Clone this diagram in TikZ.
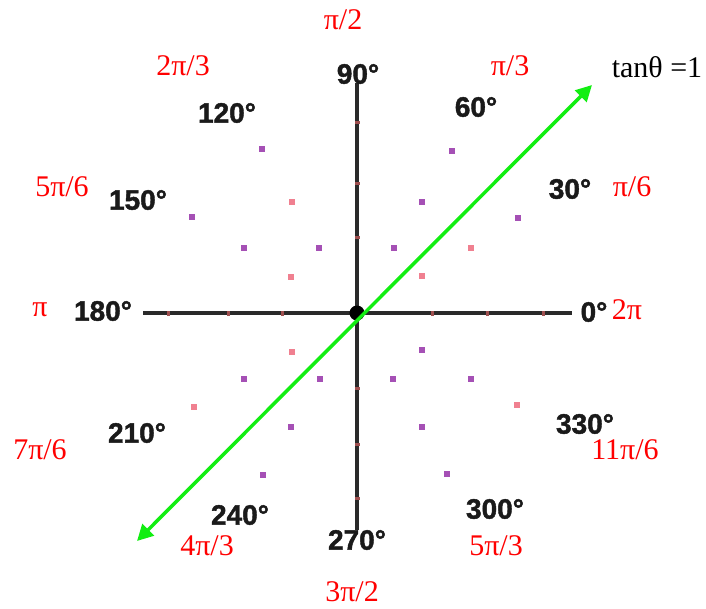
\documentclass[tikz,border=0pt]{standalone}
\usepackage{fontspec}
\setmainfont{Liberation Serif}
\newfontfamily\degfont[BoldFeatures={FakeBold=1.5}]{Liberation Sans}
\usetikzlibrary{arrows.meta}
\definecolor{axisgray}{HTML}{2A2A2A}
\definecolor{dotpurple}{HTML}{A550B5}
\definecolor{dotpink}{HTML}{F08090}
\definecolor{tickred}{HTML}{A05050}
\definecolor{arrowgreen}{HTML}{12EE12}
\definecolor{degblack}{HTML}{1A1A1A}
\tikzset{
  deg/.style={font=\degfont\bfseries\fontsize{28}{28}\selectfont, text=degblack, inner sep=0pt},
  rad/.style={font=\fontsize{30}{30}\selectfont, text=red, inner sep=0pt},
  axisline/.style={line width=4pt, draw=axisgray},
  pdot/.style={fill=dotpurple, minimum size=6pt, inner sep=0pt},
  kdot/.style={fill=dotpink, minimum size=6pt, inner sep=0pt},
  tickmark/.style={fill=tickred, minimum width=3pt, minimum height=5pt, inner sep=0pt},
  htick/.style={fill=tickred, minimum width=5pt, minimum height=3pt, inner sep=0pt},
  greenarrow/.style={line width=3.5pt, draw=arrowgreen, {Triangle[length=16pt,width=16pt]}-{Triangle[length=16pt,width=16pt]}}
}
\begin{document}
\begin{tikzpicture}[x=1pt,y=-1pt]
\useasboundingbox (0,0) rectangle (706,608);
% axes
\coordinate (L) at (143,313);
\coordinate (R) at (572,313);
\coordinate (T) at (357,83);
\coordinate (B) at (357,530);
\draw[axisline] (L) -- (R);
\draw[axisline] (T) -- (B);
% ticks on axes
\foreach \x [count=\i] in {168,228,282,432,487,543} \node[tickmark] (th\i) at (\x,313) {};
\foreach \y [count=\i] in {122,183,237,388,444,498} \node[htick] (tv\i) at (357,\y) {};
% dots
\foreach \p [count=\i] in {(262,149),(192,217),(244,248),(319,248),(452,151),(422,202),(518,218),(394,248),(244,379),(320,379),(263,475),(422,350),(393,379),(471,379),(422,427),(447,474),(291,427)}
  \node[pdot] (pd\i) at \p {};
\foreach \p [count=\i] in {(292,202),(291,277),(471,248),(422,276),(292,352),(194,407),(517,405)}
  \node[kdot] (kd\i) at \p {};
% center dot
\node[circle, fill=black, minimum size=15pt, inner sep=0pt] (O) at (357,313) {};
% green arrow
\coordinate (SW) at (137,541);
\coordinate (NE) at (592,85);
\draw[greenarrow] (SW) -- (NE);
% degree labels
\node[deg] (d90) at (358,74) {90°};
\node[deg] (d60) at (476,107) {60°};
\node[deg] (d30) at (570,189) {30°};
\node[deg] (d0) at (594,312) {0°};
\node[deg] (d120) at (227,113) {120°};
\node[deg] (d150) at (138,200) {150°};
\node[deg] (d180) at (103,311) {180°};
\node[deg] (d210) at (137,433) {210°};
\node[deg] (d240) at (240,515) {240°};
\node[deg] (d270) at (357,540) {270°};
\node[deg] (d300) at (495,509) {300°};
\node[deg] (d330) at (585,424) {330°};
% radian labels
\node[rad] (r90) at (343,20) {π/2};
\node[rad] (r120) at (183,66) {2π/3};
\node[rad] (r60) at (510,66) {π/3};
\node[rad] (r30) at (632,187) {π/6};
\node[rad] (r150) at (62,187) {5π/6};
\node[rad] (r180) at (40,310) {π};
\node[rad] (r0) at (627,310) {2π};
\node[rad] (r210) at (40,450) {7π/6};
\node[rad] (r330) at (625,450) {11π/6};
\node[rad] (r240) at (207,546) {4π/3};
\node[rad] (r300) at (496,546) {5π/3};
\node[rad] (r270) at (352,592) {3π/2};
\node[rad, text=black] (tan) at (657,67) {tanθ =1};
\end{tikzpicture}
\end{document}
